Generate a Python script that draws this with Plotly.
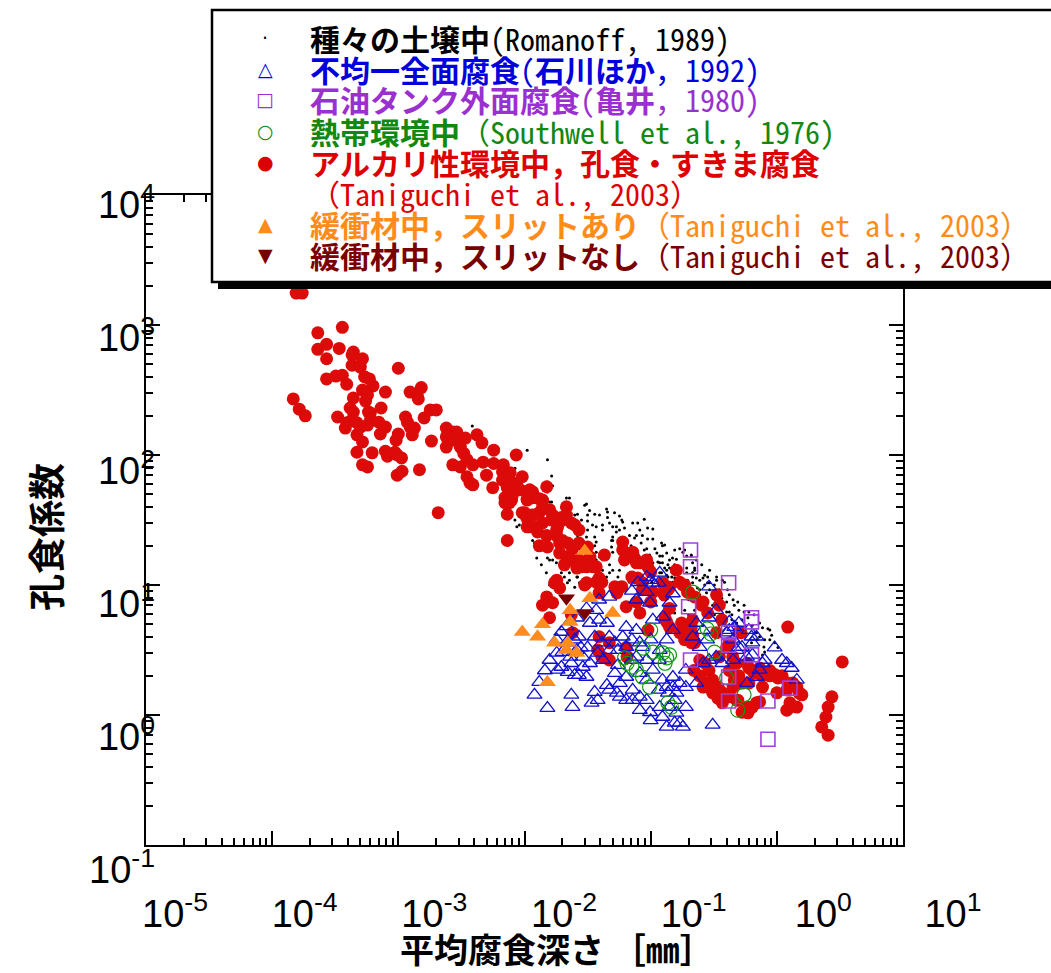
import plotly.graph_objects as go

W, H = 1051, 973

# ---------------- data (mean corrosion depth [mm], pitting factor) ----------------
soil_romanoff = [
    (3.86e-3, 167), (1.05e-2, 109), (1.52e-2, 92), (1.64e-2, 69), (1.67e-2, 58), (1.52e-2, 52), (1.64e-2, 43.5),
    (2.15e-2, 46.7), (2.27e-2, 46.7), (3.1e-2, 42), (2.63e-2, 35), (2.5e-2, 34.5), (3.16e-2, 34.5), (3.16e-2, 31),
    (3.6e-2, 35), (4.47e-2, 38.5), (4.55e-2, 36.4), (5.17e-2, 36), (5.66e-2, 34), (4.55e-2, 33), (4.72e-2, 30),
    (4.15e-2, 29), (5.35e-2, 28), (5.9e-2, 31.6), (7.2e-2, 30), (7.9e-2, 30), (8.9e-2, 32), (5.66e-2, 26.5),
    (6.8e-2, 24), (7.7e-2, 24), (7.45e-2, 23), (5.0e-2, 23.4), (4.9e-2, 22), (3.6e-2, 23.4), (3.7e-2, 21.4),
    (3.16e-2, 26.5), (3.1e-2, 23.4), (9.45e-2, 27.5), (0.104, 27), (9.45e-2, 22.6), (0.104, 22.6), (7.0e-2, 20),
    (8.4e-2, 21), (9.3e-2, 19), (0.124, 20), (0.112, 17.6), (0.118, 16.7), (0.134, 17.6), (0.114, 15),
    (9.3e-2, 16.4), (9.45e-2, 15), (0.149, 16.1), (0.16, 15.8), (0.17, 19), (0.186, 18.6), (0.124, 14.8),
    (0.137, 14.3), (0.141, 13.5), (0.134, 13), (0.104, 14.8), (0.102, 13.8), (0.118, 12.4), (0.134, 11.9),
    (0.147, 11.5), (0.17, 13.5), (0.193, 12.4), (0.193, 13.5), (0.21, 16.7), (0.215, 14.8), (0.223, 13),
    (0.254, 14.3), (0.283, 11.5), (0.293, 10.4), (0.268, 10), (0.333, 10.9), (0.37, 10.9), (0.149, 10.5),
    (0.16, 10), (0.176, 10), (0.215, 11.5), (0.215, 10.4), (0.23, 11.3), (4.72e-2, 14.3), (5.0e-2, 13),
    (4.72e-2, 12.4), (4.15e-2, 13), (4.47e-2, 11.5), (3.93e-2, 16.4), (3.7e-2, 15.6), (3.46e-2, 14.3),
    (3.28e-2, 16.4), (5.66e-2, 13), (5.5e-2, 11.5), (3.7e-2, 11.5), (4.3e-2, 10.5), (3.46e-2, 10), (3.1e-2, 10.9),
    (2.63e-2, 11.5), (2.73e-2, 10.4), (2.5e-2, 9.6), (2.27e-2, 10.9), (2.19e-2, 10.4), (2.0e-2, 13.8),
    (1.96e-2, 12.4), (1.67e-2, 15.6), (1.52e-2, 16.1), (1.16e-2, 22), (2.27e-2, 12.4), (2.07e-2, 11.5),
    (6.8e-2, 10.5), (7.45e-2, 10.4), (8.2e-2, 11.5), (9.3e-2, 10.9), (0.102, 10.5), (0.104, 11.5), (0.118, 10.4),
    (6.0e-2, 9.7), (6.4e-2, 9.3), (8.2e-2, 9.7), (9.3e-2, 9.5), (0.108, 9.5), (3.7e-2, 28), (4.15e-2, 26.5),
    (5.35e-2, 25.6), (4.9e-2, 19.6), (5.0e-2, 17.9), (4.55e-2, 17.6), (3.6e-2, 20), (3.7e-2, 17.9), (2.73e-2, 19),
    (3.1e-2, 20), (0.122, 21), (0.124, 16.7), (0.118, 14.8), (0.141, 15.6), (0.155, 14.3), (0.129, 13.5),
    (0.147, 12.6), (0.122, 12.4), (0.137, 11.5), (0.155, 11.3), (0.164, 10.5), (0.134, 10.4), (0.149, 9.7),
    (0.176, 9.5), (0.18, 17.9), (0.193, 16.7), (0.21, 17), (0.23, 15.6), (0.223, 13.5), (0.215, 12.4),
    (0.26, 11.3), (0.283, 10.4), (0.293, 9.2), (0.32, 8.7), (0.277, 8.7), (0.245, 9.2), (0.26, 7.9), (0.283, 7.4),
    (0.31, 7.0), (0.34, 6.6), (0.37, 6.8), (0.4, 6.2), (0.44, 5.9), (0.46, 7.0), (0.49, 7.4), (0.44, 5.4),
    (0.48, 5.1), (0.53, 5.4), (0.59, 5.6), (0.64, 4.9), (0.73, 5.1), (0.77, 4.7), (0.69, 4.3), (0.73, 4.0),
    (0.8, 3.8), (0.88, 3.8), (0.79, 3.33), (0.8, 3.05), (0.77, 2.9), (0.69, 3.8), (0.63, 3.6), (0.53, 4.0),
    (0.385, 10.5), (0.333, 11.5), (0.293, 13), (0.245, 10.9), (0.42, 8.4), (0.45, 7.7), (0.366, 7.9), (0.4, 7.4),
    (0.124, 7.7), (0.137, 6.8), (0.155, 6.1), (0.164, 5.4), (0.17, 4.9), (0.18, 4.5), (0.193, 4.3), (0.147, 5.2),
    (0.118, 10.9), (0.124, 9.7), (0.118, 8.8), (3.0e-2, 41), (2.83e-2, 31.6), (2.63e-2, 28), (2.6e-2, 22),
    (3.0e-2, 21), (6.0e-2, 30.5), (5.0e-2, 28), (5.0e-2, 22), (8.4e-3, 31.6), (8.7e-3, 28), (1.25e-2, 16.1),
    (1.36e-2, 14.3), (1.49e-2, 12.4), (1.67e-2, 11.3), (1.89e-2, 9.7), (1.58e-2, 10), (8.4e-3, 79), (1.52e-2, 62),
    (1.58e-2, 43.5), (3.46e-2, 29), (2.63e-2, 24), (2.9e-2, 13.8), (3.1e-2, 13), (3.7e-2, 12.6), (9.1e-3, 29),
    (1.2e-2, 21), (1.58e-2, 15.6), (1.79e-2, 14.8), (2.15e-2, 13.5), (2.6e-2, 11.5), (8.9e-2, 18.6), (9.8e-2, 17),
    (0.108, 19), (0.129, 20.3), (0.155, 18.6), (0.164, 12.6), (0.196, 10.9), (0.235, 9.5), (0.268, 11.9),
    (0.32, 10), (0.35, 9.2), (0.406, 9.2), (0.5, 6.4), (0.55, 6.2), (0.6, 6.2), (0.66, 5.9), (0.88, 4.5),
    (0.91, 4.1), (0.96, 3.6), (1.02, 3.3), (0.85, 4.6), (0.55, 7.0), (0.245, 8.4), (0.2, 7.7), (0.186, 6.4),
    (0.2, 5.9), (0.223, 6.4), (0.27, 6.2), (0.32, 5.9), (0.35, 4.9), (0.385, 4.9), (0.46, 4.1), (0.42, 6.2),
    (3.28e-2, 37.5), (3.93e-2, 34.5), (6.2e-2, 27.5), (8.2e-2, 26.5), (6.5e-2, 22), (8.6e-2, 24),
]

uniform_ishikawa = [
    (1.96e-2, 4.35), (1.58e-2, 2.65), (1.31e-2, 1.79), (1.2e-2, 1.43), (1.52e-2, 1.13), (2.35e-2, 1.43),
    (1.96e-2, 2.34), (2.35e-2, 2.5), (2.7e-2, 4.0), (2.8e-2, 3.3), (3.16e-2, 3.3), (3.6e-2, 4.0), (3.9e-2, 5.4),
    (3.3e-2, 5.1), (3.7e-2, 6.4), (4.5e-2, 5.1), (4.7e-2, 4.0), (4.1e-2, 3.6), (3.3e-2, 2.5), (3.1e-2, 1.96),
    (2.7e-2, 2.03), (3.6e-2, 1.5), (3.8e-2, 1.3), (3.4e-2, 1.24), (4.5e-2, 1.7), (4.7e-2, 1.56), (5.4e-2, 1.48),
    (5.2e-2, 2.1), (5.5e-2, 2.42), (6.0e-2, 4.0), (6.4e-2, 3.33), (7.1e-2, 2.65), (8.2e-2, 2.1), (9.3e-2, 1.86),
    (0.104, 2.22), (0.116, 2.65), (0.118, 3.16), (0.134, 3.8), (0.15, 4.5), (0.10, 3.8), (0.104, 5.4),
    (0.125, 5.7), (0.141, 7.3), (0.15, 8.6), (8.6e-2, 3.33), (0.116, 1.56), (0.134, 1.64), (0.15, 1.96),
    (0.155, 1.3), (0.16, 1.04), (0.155, 0.87), (0.137, 1.48), (9.9e-2, 7.3), (7.7e-2, 7.7), (0.104, 10.4),
    (0.118, 12.4), (9.3e-2, 8.8), (7.1e-2, 9.0), (4.7e-2, 8.1), (3.9e-2, 7.7), (3.1e-2, 6.6), (2.6e-2, 5.6),
    (2.15e-2, 4.8), (1.8e-2, 3.8), (2.5e-2, 3.8), (2.15e-2, 3.6), (2.6e-2, 3.16), (2.3e-2, 2.8), (2.0e-2, 3.05),
    (1.8e-2, 3.0), (1.83e-2, 2.22), (2.2e-2, 2.14), (2.5e-2, 2.03), (2.9e-2, 2.34), (2.9e-2, 2.8), (3.8e-2, 3.0),
    (4.2e-2, 2.65), (4.7e-2, 3.16), (5.5e-2, 3.16), (5.2e-2, 3.6), (6.4e-2, 1.96), (5.7e-2, 1.76), (7.2e-2, 1.56),
    (7.2e-2, 1.3), (6.4e-2, 1.3), (5.7e-2, 1.38), (8.2e-2, 1.38), (9.3e-2, 1.3), (8.2e-2, 1.09), (9.9e-2, 1.05),
    (0.118, 1.15), (0.124, 0.965), (0.134, 0.81), (0.10, 0.91), (9.3e-2, 2.65), (7.7e-2, 2.8), (8.2e-2, 3.6),
    (7.1e-2, 3.8), (7.7e-2, 4.5), (6.4e-2, 4.75), (2.4e-2, 1.15), (0.29, 9.7), (0.96, 3.3), (1.31, 2.3),
    (1.2, 2.5), (1.1, 2.65), (0.8, 2.65), (0.73, 2.22), (0.58, 2.8), (0.5, 3.33), (0.45, 3.8), (0.42, 4.5),
    (0.63, 4.0), (0.31, 0.84), (0.17, 0.87), (0.19, 1.15), (0.141, 1.15), (0.16, 1.48), (0.19, 1.64),
    (0.23, 1.76), (0.19, 2.22), (0.26, 2.5), (0.29, 2.65), (0.33, 2.8), (0.37, 2.5), (0.45, 2.65), (0.58, 1.76),
    (0.69, 1.96), (0.77, 2.5), (0.245, 3.33), (0.28, 3.8), (0.215, 4.0), (0.26, 4.5), (0.23, 5.1), (0.29, 5.6),
    (0.33, 6.4), (0.4, 4.3), (0.64, 3.6), (0.6, 4.5), (0.69, 4.0), (0.5, 5.1), (0.46, 4.75), (0.42, 5.2),
    (0.53, 3.33), (0.64, 2.9), (0.48, 3.16), (0.18, 0.81), (0.15, 1.64), (0.17, 1.76), (0.124, 1.86),
    (7.9e-2, 10.5), (9.3e-2, 11.5), (0.10, 10.9), (0.116, 10.4), (1.45e-2, 2.2), (1.44, 1.86),
]

oil_tank_kamei = [
    (0.207, 18.6), (0.207, 13.8), (0.415, 10.4), (0.63, 5.6), (0.63, 5.2), (0.415, 4.3), (0.415, 3.45),
    (0.2, 6.8), (0.207, 2.65), (0.63, 2.9), (0.415, 1.96), (1.27, 1.61), (0.85, 1.28), (0.415, 1.28), (0.85, 0.65),
]

tropical_southwell = [
    (0.10, 4.5), (8.7e-2, 3.27), (0.104, 3.05), (0.125, 3.0), (0.134, 2.75), (0.141, 2.9), (0.13, 2.5),
    (6.2e-2, 2.75), (6.5e-2, 2.5), (7.1e-2, 2.34), (7.7e-2, 2.22), (8.6e-2, 1.96), (9.8e-2, 1.64), (0.137, 1.24),
    (0.146, 1.15), (0.215, 8.8), (0.28, 4.6), (0.3, 4.2), (0.32, 3.05), (0.4, 1.93), (0.49, 1.09), (0.55, 1.43),
]

alkaline_taniguchi = [
    (1.55e-4, 1760), (1.73e-4, 1760), (2.3e-4, 870), (3.6e-4, 960), (2.7e-4, 710), (2.3e-4, 650), (3.4e-4, 660),
    (2.7e-4, 550), (4.4e-4, 620), (4.3e-4, 590), (5.2e-4, 550), (4.3e-4, 490), (5.0e-4, 475), (1.0e-3, 465),
    (2.7e-4, 385), (3.2e-4, 405), (3.6e-4, 410), (3.9e-4, 350), (5.4e-4, 400), (5.9e-4, 385), (6.3e-4, 340),
    (5.2e-4, 316), (5.7e-4, 290), (5.5e-4, 260), (7.9e-4, 305), (4.4e-4, 275), (1.47e-4, 270), (1.64e-4, 225),
    (1.83e-4, 200), (4.15e-4, 230), (4.4e-4, 214), (5.8e-4, 214), (6.0e-4, 210), (7.3e-4, 230), (3.3e-4, 196),
    (3.9e-4, 177), (4.3e-4, 186), (4.7e-4, 177), (3.8e-4, 161), (5.0e-4, 164), (5.7e-4, 170), (6.0e-4, 186),
    (7.0e-4, 179), (7.9e-4, 164), (4.7e-4, 143), (5.2e-4, 126), (7.2e-4, 145), (1.14e-3, 196), (1.24e-3, 164),
    (1.34e-3, 161), (1.18e-3, 179), (1.29e-3, 143), (1.0e-3, 145), (9.6e-4, 130), (1.6e-3, 193), (1.24e-3, 305),
    (1.41e-3, 290), (1.52e-3, 330), (1.44e-3, 270), (1.79e-3, 222), (2.0e-3, 222), (1.83e-3, 128), (4.7e-4, 105),
    (6.2e-4, 104), (7.9e-4, 107), (8.2e-4, 98), (9.4e-4, 105), (9.8e-4, 100), (1.06e-3, 95), (5.2e-4, 84),
    (5.7e-4, 81), (9.8e-4, 70), (1.07e-3, 75), (1.47e-3, 77), (2.07e-3, 36), (2.4e-3, 161), (2.7e-3, 150),
    (2.9e-3, 150), (2.4e-3, 138), (2.4e-3, 115), (2.8e-3, 130), (3.1e-3, 115), (3.3e-3, 103), (3.5e-3, 92),
    (2.7e-3, 84), (3.1e-3, 81), (3.5e-3, 68), (3.7e-3, 61), (3.4e-3, 135), (4.2e-3, 143), (4.6e-3, 124),
    (5.7e-3, 109), (8.6e-3, 100), (3.9e-3, 84), (4.7e-3, 88), (5.7e-3, 86), (6.8e-3, 84), (3.9e-3, 59),
    (5.0e-3, 70), (5.6e-3, 56), (6.7e-3, 74), (7.7e-3, 73), (9.6e-3, 68), (7.3e-3, 57), (8.8e-3, 57),
    (7.0e-3, 47), (7.9e-3, 45), (1.1e-2, 54), (1.16e-2, 47), (1.05e-2, 45), (1.39e-2, 45), (1.5e-2, 57),
    (9.6e-3, 36), (1.04e-2, 33), (1.31e-2, 36), (1.58e-2, 38), (7.3e-3, 35), (2.15e-2, 40), (2.15e-2, 34.5),
    (1.05e-2, 28), (1.25e-2, 28), (1.39e-2, 30), (1.64e-2, 31.6), (1.83e-2, 28), (1.8e-2, 24), (2.5e-2, 29),
    (2.7e-2, 26.5), (1.31e-2, 20), (1.52e-2, 19.6), (1.9e-2, 21), (2.2e-2, 21), (1.9e-2, 17.6), (2.15e-2, 16.4),
    (2.4e-2, 19), (2.6e-2, 14.8), (2.7e-2, 21), (3.16e-2, 19.6), (3.5e-2, 13.8), (7.3e-3, 22), (1.8e-2, 10.9),
    (1.96e-2, 33), (7.0e-3, 43), (1.67e-2, 34.5), (1.27e-2, 25.6), (1.1e-2, 28), (3.4e-2, 14.3), (3.7e-2, 13.8),
    (2.8e-2, 13.8), (4.3e-2, 17), (6.0e-2, 21.4), (6.0e-2, 18.6), (7.2e-2, 17.9), (7.45e-2, 16.1), (6.2e-2, 15.6),
    (1.73e-2, 10.4), (1.9e-2, 9.5), (3.1e-2, 10.4), (3.7e-2, 10.5), (4.1e-2, 10.5), (5.4e-2, 9.5), (5.9e-2, 9.7),
    (8.2e-2, 14.8), (9.3e-2, 15.6), (9.5e-2, 13.8), (0.10, 12.6), (0.16, 13), (0.125, 10.4), (0.141, 9.6),
    (0.17, 10.5), (0.186, 10), (7.9e-2, 11.3), (8.6e-2, 10.4), (7.1e-2, 11.5), (7.9e-3, 62), (6.7e-3, 64),
    (7.3e-3, 56), (8.0e-3, 49), (9.2e-3, 54), (7.6e-3, 43), (1.16e-2, 52), (1.05e-2, 46), (1.31e-2, 46),
    (1.39e-2, 40), (1.16e-2, 34.5), (1.0e-2, 36), (2.0e-2, 31.6), (2.35e-2, 30), (1.5e-2, 24), (1.8e-2, 26.5),
    (2.0e-2, 22), (2.35e-2, 15.6), (2.7e-2, 15.6), (3.1e-2, 13.8), (2.6e-2, 13.5), (2.07e-2, 14.3), (3.3e-2, 16.4),
    (3.9e-2, 11.3), (7.7e-2, 14.8), (3.0e-2, 10), (3.9e-2, 8.7), (5.4e-2, 8.7), (5.2e-2, 9.7), (1.5e-2, 8.1),
    (1.67e-2, 7.3), (1.39e-2, 7.0), (1.58e-2, 5.6), (2.35e-2, 5.9), (2.4e-2, 4.3), (3.9e-2, 4.0), (4.7e-2, 3.6),
    (3.8e-2, 3.16), (4.1e-2, 2.8), (4.7e-2, 2.65), (6.4e-2, 3.3), (6.5e-2, 2.8), (8.6e-2, 9.2), (0.104, 8.8),
    (0.129, 9.5), (0.10, 7.4), (7.7e-2, 7.4), (6.4e-2, 6.8), (8.2e-2, 6.1), (9.5e-2, 4.5), (0.134, 5.2),
    (0.141, 4.75), (0.17, 4.3), (0.176, 5.1), (0.186, 3.8), (0.21, 3.6), (0.18, 10), (0.196, 8.8), (0.223, 8.1),
    (0.254, 7.0), (0.283, 6.1), (0.333, 8.4), (0.35, 7.0), (0.366, 5.4), (0.333, 4.3), (0.215, 5.4), (0.21, 4.75),
    (0.215, 4.1), (0.223, 3.6), (0.5, 4.35), (0.447, 2.8), (0.42, 2.2), (0.48, 2.5), (0.58, 2.5), (0.64, 2.2),
    (0.76, 2.0), (0.5, 2.0), (0.46, 1.86), (0.53, 1.76), (0.245, 2.65), (0.27, 2.5), (0.29, 2.2), (0.245, 2.0),
    (0.31, 1.86), (0.26, 1.64), (0.28, 1.76), (0.35, 1.56), (0.42, 1.38), (0.48, 1.3), (0.31, 1.48), (0.37, 1.24),
    (0.58, 1.15), (0.64, 1.15), (0.53, 1.05), (0.59, 1.04), (0.69, 1.24), (0.77, 1.64), (0.88, 2.0), (1.02, 1.93),
    (1.0, 1.48), (1.2, 1.56), (1.34, 1.76), (1.58, 1.43), (1.27, 1.15), (1.44, 1.15), (1.2, 1.09), (1.22, 4.75),
    (3.3, 2.56), (2.73, 1.38), (2.55, 1.15), (2.45, 0.965), (2.27, 0.81), (2.55, 0.70), (0.137, 9.2),
    (0.128, 8.4), (0.141, 6.6), (0.13, 5.6), (0.2, 8.8), (0.26, 7.4), (0.52, 4.3), (0.186, 4.6), (0.2, 4.0),
    (0.42, 3.6), (0.4, 3.3), (0.35, 2.8), (0.22, 2.2), (0.27, 1.76), (0.29, 1.64), (0.34, 1.64), (0.37, 1.48),
    (0.4, 1.38), (0.49, 1.3), (0.58, 1.05), (0.73, 1.26), (0.66, 2.1), (0.6, 2.3), (0.73, 2.3), (0.88, 2.2),
    (0.96, 2.05), (1.1, 2.0), (1.22, 1.76), (1.44, 1.64), (1.5, 1.48), (1.27, 1.24), (0.6, 1.76), (0.45, 1.64),
    (0.34, 1.35),
]

buffer_slit = [
    (9.6e-3, 4.35), (1.27e-2, 4.0), (1.39e-2, 5.0), (1.73e-2, 3.6), (2.15e-2, 3.16), (2.6e-2, 3.0), (2.2e-2, 3.6),
    (1.52e-2, 1.79), (3.3e-2, 7.9), (2.3e-2, 6.4), (2.3e-2, 5.2), (5.0e-2, 6.1), (3.0e-2, 18.3),
]

buffer_noslit = [(2.15e-2, 7.9), (3.0e-2, 6.1)]

x_major = [1e-5, 1e-4, 1e-3, 1e-2, 1e-1, 1e0, 1e1]
x_labels = ["10<sup>-5</sup>", "10<sup>-4</sup>", "10<sup>-3</sup>", "10<sup>-2</sup>",
            "10<sup>-1</sup>", "10<sup>0</sup>", "10<sup>1</sup>"]
y_major = [1e-1, 1e0, 1e1, 1e2, 1e3, 1e4]
y_labels = ["10<sup>-1</sup>", "10<sup>0</sup>", "10<sup>1</sup>", "10<sup>2</sup>",
            "10<sup>3</sup>", "10<sup>4</sup>"]
x_minor = [m * 10.0 ** e for e in range(-5, 1) for m in range(2, 10)]
y_minor = [m * 10.0 ** e for e in range(-1, 4) for m in range(2, 10)]

legend_entries = [
    ("<b>種々の土壌中</b>(Romanoff, 1989)", "#000000", "·"),
    ("<b>不均一全面腐食</b>(<b>石川ほか</b>，1992)", "#0000DD", "△"),
    ("<b>石油タンク外面腐食</b>(<b>亀井</b>，1980)", "#9B30D0", "□"),
    ("<b>熱帯環境中</b>（Southwell et al., 1976)", "#118811", "○"),
    ("<b>アルカリ性環境中，孔食・すきま腐食</b>", "#DD0000", "●"),
    ("（Taniguchi et al., 2003）", "#DD0000", ""),
    ("<b>緩衝材中，スリットあり</b>（Taniguchi et al., 2003）", "#FF8C1A", "▲"),
    ("<b>緩衝材中，スリットなし</b>（Taniguchi et al., 2003）", "#7A0000", "▼"),
]
legend_rows_px = [38, 69, 99, 131, 162, 193, 224, 255]

CJK = "Noto Sans CJK JP, sans-serif"
LEG = "Noto Sans Mono CJK JP, Noto Sans CJK JP, sans-serif"
NUM = "Liberation Sans Narrow, Liberation Sans, Arial, sans-serif"


def xs(pts):
    return [p[0] for p in pts]


def ys(pts):
    return [p[1] for p in pts]


fig = go.Figure()

fig.add_trace(go.Scatter(x=xs(soil_romanoff), y=ys(soil_romanoff), mode="markers",
                         marker=dict(symbol="circle", size=3, color="black")))
fig.add_trace(go.Scatter(x=xs(alkaline_taniguchi), y=ys(alkaline_taniguchi), mode="markers",
                         marker=dict(symbol="circle", size=13, color="#DD0A0A")))
fig.add_trace(go.Scatter(x=xs(uniform_ishikawa), y=ys(uniform_ishikawa), mode="markers",
                         marker=dict(symbol="triangle-up-open", size=13, color="#1010D0",
                                     line=dict(width=1.3, color="#1010D0"))))
fig.add_trace(go.Scatter(x=xs(tropical_southwell), y=ys(tropical_southwell), mode="markers",
                         marker=dict(symbol="circle-open", size=14, color="#119911",
                                     line=dict(width=1.2, color="#119911"))))
fig.add_trace(go.Scatter(x=xs(oil_tank_kamei), y=ys(oil_tank_kamei), mode="markers",
                         marker=dict(symbol="square-open", size=14, color="#A040DD",
                                     line=dict(width=1.6, color="#A040DD"))))
fig.add_trace(go.Scatter(x=xs(buffer_slit), y=ys(buffer_slit), mode="markers",
                         marker=dict(symbol="triangle-up", size=15, color="#FF8C1E")))
fig.add_trace(go.Scatter(x=xs(buffer_noslit), y=ys(buffer_noslit), mode="markers",
                         marker=dict(symbol="triangle-down", size=15, color="#7A0000")))
# carrier for the tick-label axes
fig.add_trace(go.Scatter(x=[1e-5], y=[1e-1], xaxis="x2", yaxis="y2", mode="markers",
                         marker=dict(size=1, opacity=0), hoverinfo="skip"))

minor_common = dict(ticks="inside", ticklen=7, tickwidth=1.6, tickcolor="black", showgrid=False)
axis_common = dict(type="log", showline=True, linecolor="black", linewidth=2.2, mirror="ticks",
                   ticks="inside", ticklen=14, tickwidth=2, tickcolor="black", automargin=False,
                   showticklabels=False, showgrid=False, zeroline=False, tickmode="array")
label_common = dict(type="log", anchor="free", showline=False, ticks="", showgrid=False,
                    zeroline=False, automargin=False, tickmode="array",
                    tickfont=dict(family=NUM, size=38, color="black"))

fig.update_layout(
    template="none",
    width=W, height=H, margin=dict(l=0, r=0, t=0, b=0, autoexpand=False),
    paper_bgcolor="white", plot_bgcolor="rgba(0,0,0,0)", showlegend=False,
    xaxis=dict(axis_common, range=[-5, 1], domain=[146 / W, 903 / W], anchor="y",
               tickvals=x_major, minor=dict(minor_common, tickvals=x_minor)),
    yaxis=dict(axis_common, range=[-1, 4], domain=[128 / H, 778 / H], anchor="x",
               tickvals=y_major, minor=dict(minor_common, tickvals=y_minor)),
    xaxis2=dict(label_common, range=[-5, 1], domain=[175 / W, 953 / W],
                position=1 - 888 / H, tickvals=x_major, ticktext=x_labels),
    yaxis2=dict(label_common, range=[-1, 4], domain=[103 / H, 768 / H],
                position=155 / W, side="left", tickvals=y_major, ticktext=y_labels),
)

# legend box with drop shadow
fig.add_shape(type="rect", xref="paper", yref="paper", x0=218 / W, x1=1.02,
              y0=1 - 289 / H, y1=1 - 16 / H, fillcolor="black", line=dict(width=0), layer="above")
fig.add_shape(type="rect", xref="paper", yref="paper", x0=212 / W, x1=1.01,
              y0=1 - 282 / H, y1=1 - 10 / H, fillcolor="white",
              line=dict(color="black", width=2.5), layer="above")

for (label, color, sym), ypx in zip(legend_entries, legend_rows_px):
    fig.add_annotation(xref="paper", yref="paper", x=308 / W, y=1 - ypx / H,
                       xanchor="left", yanchor="middle", showarrow=False, text=label,
                       font=dict(family=LEG, size=30, color=color))
    if sym:
        fig.add_annotation(xref="paper", yref="paper", x=265 / W, y=1 - ypx / H,
                           xanchor="center", yanchor="middle", showarrow=False, text=sym,
                           font=dict(family="DejaVu Sans, sans-serif", size=19, color=color))

fig.add_annotation(xref="paper", yref="paper", x=45 / W, y=1 - 537 / H, textangle=-90,
                   showarrow=False, text="<b>孔食係数</b>", xanchor="center", yanchor="middle",
                   font=dict(family=CJK, size=37, color="black"))
fig.add_annotation(xref="paper", yref="paper", x=557 / W, y=1 - 948 / H, showarrow=False,
                   text="<b>平均腐食深さ ［㎜］</b>", xanchor="center", yanchor="middle",
                   font=dict(family=CJK, size=34, color="black"))

fig.write_html("out.html", config={"displayModeBar": False},
               post_script="document.body.style.margin='0px';")
